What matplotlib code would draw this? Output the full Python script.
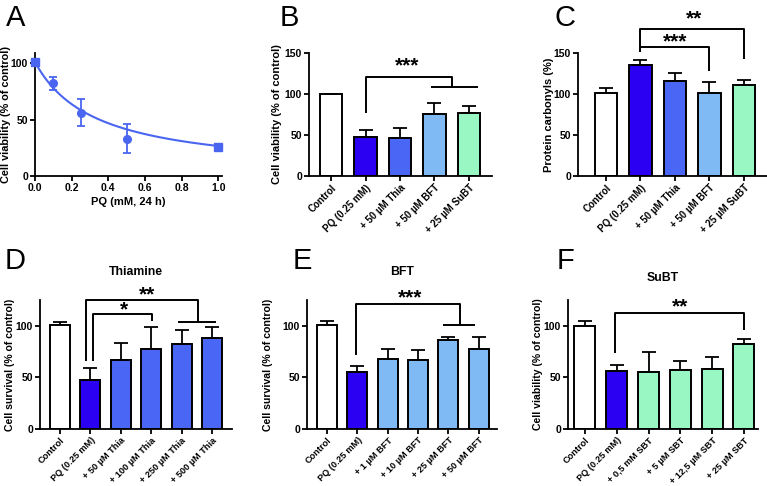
import numpy as np
import matplotlib
matplotlib.use("Agg")
import matplotlib.pyplot as plt

plt.rcParams['font.family'] = ['Liberation Sans', 'DejaVu Sans']
plt.rcParams['font.weight'] = 'bold'

# ------------------------------------------------------------
# Data
# ------------------------------------------------------------

# A: dose response
pq_dose = [0.0, 0.1, 0.25, 0.5, 1.0]
pq_viab = [101, 82, 56, 33, 26]
pq_err = [3, 6, 12, 13, 2]
pq_marker = ['s', 'o', 'o', 'o', 's']
# fitted curve parameters: bottom + (top - bottom) / (1 + x / ic50)
fit_top, fit_bottom, fit_ic50 = 101, 2, 0.33

# B: cell viability
b_labels = ['Control', 'PQ (0.25 mM)', '+ 50 µM Thia', '+ 50 µM BFT', '+ 25 µM SuBT']
b_values = [99.5, 47, 46, 76, 76.5]
b_errors = [1, 9, 13, 13, 9]

# C: protein carbonyls
c_labels = ['Control', 'PQ (0.25 mM)', '+ 50 µM Thia', '+ 50 µM BFT', '+ 25 µM SuBT']
c_values = [101, 135.5, 116, 101, 111]
c_errors = [6, 6.5, 9, 14, 6]

# D: thiamine
d_labels = ['Control', 'PQ (0.25 mM)', '+ 50 µM Thia', '+ 100 µM Thia',
            '+ 250 µM Thia', '+ 500 µM Thia']
d_values = [101, 47.7, 67, 78, 82, 88]
d_errors = [3, 11.5, 16, 21, 14, 11]

# E: BFT
e_labels = ['Control', 'PQ (0.25 mM)', '+ 1 µM BFT', '+ 10 µM BFT',
            '+ 25 µM BFT', '+ 50 µM BFT']
e_values = [101, 55, 68, 67, 86, 78]
e_errors = [4, 6, 10, 10, 3.5, 11.5]

# F: SuBT
f_labels = ['Control', 'PQ (0.25 mM)', '+ 0,5 mM SBT', '+ 5 µM SBT',
            '+ 12,5 µM SBT', '+ 25 µM SBT']
f_values = [100, 56, 55, 57, 58, 82.5]
f_errors = [5, 6.5, 20, 9, 12, 4.5]

WHITE = '#ffffff'
PQ = '#2b00f2'
THIA = '#4a66f5'
BFT = '#80baf5'
SUBT = '#99f7c4'
LINE = '#4a66f0'

W, H = 767, 486


def axes_px(fig, left, top, right, bottom):
    return fig.add_axes([left / W, 1 - bottom / H, (right - left) / W, (bottom - top) / H])


def style(ax, xfs=7):
    for s in ['top', 'right']:
        ax.spines[s].set_visible(False)
    for s in ['left', 'bottom']:
        ax.spines[s].set_linewidth(1.3)
    ax.tick_params(width=1.3, length=3.5, pad=1.5)
    ax.tick_params(axis='y', labelsize=7.5)
    ax.tick_params(axis='x', labelsize=xfs)
    for t in ax.get_yticklabels():
        t.set_fontweight('bold')


def bar_panel(ax, labels, values, errors, colors, ylim, yticks, ylabel, xlim,
              lab_x, lab_fs, xfs=7):
    x = np.arange(len(values))
    ax.bar(x, values, width=0.66, color=colors, edgecolor='black', linewidth=1.4, zorder=2)
    ax.errorbar(x, values, yerr=[np.zeros(len(errors)), errors], fmt='none',
                ecolor='black', elinewidth=1.3, capsize=5, capthick=1.3, zorder=1)
    ax.set_xlim(*xlim)
    ax.set_ylim(*ylim)
    ax.set_yticks(yticks)
    ax.set_xticks(x)
    ax.set_xticklabels(labels, rotation=45, ha='right', rotation_mode='anchor',
                       fontweight='bold')
    ax.set_ylabel(ylabel, fontsize=lab_fs, fontweight='bold')
    ax.yaxis.set_label_coords(lab_x, 0.5)
    style(ax, xfs)


def bracket(ax, pts):
    xs, ys = zip(*pts)
    ax.plot(xs, ys, color='black', lw=1.4, clip_on=False, solid_capstyle='butt')


def stars(ax, x, y, s):
    ax.text(x, y, s, ha='center', va='center', fontsize=15, fontweight='bold', clip_on=False)


fig = plt.figure(figsize=(W / 100, H / 100), dpi=100)

# ------------------------------------------------------------
# A
# ------------------------------------------------------------
ax = axes_px(fig, 35, 53, 222, 176)
xs = np.linspace(0, 1, 200)
ax.plot(xs, fit_bottom + (fit_top - fit_bottom) / (1 + xs / fit_ic50), color=LINE, lw=1.5)
for xv, yv, ev, mk in zip(pq_dose, pq_viab, pq_err, pq_marker):
    ax.errorbar(xv, yv, yerr=ev, fmt=mk, color=LINE, ms=5.5, elinewidth=1.3,
                capsize=3, capthick=1.3, clip_on=False, zorder=3)
ax.set_xlim(0, 1.02)
ax.set_ylim(0, 109)
ax.set_xticks([0.0, 0.2, 0.4, 0.6, 0.8, 1.0])
ax.set_xticklabels(['0.0', '0.2', '0.4', '0.6', '0.8', '1.0'], fontweight='bold')
ax.set_yticks([0, 50, 100])
ax.set_xlabel('PQ (mM, 24 h)', fontsize=8, fontweight='bold', labelpad=3)
ax.set_ylabel('Cell viability (% of control)', fontsize=7.8, fontweight='bold')
ax.yaxis.set_label_coords(-0.128, 0.5)
style(ax, 7.5)

# ------------------------------------------------------------
# B
# ------------------------------------------------------------
ax = axes_px(fig, 309, 53, 492, 176)
bar_panel(ax, b_labels, b_values, b_errors, [WHITE, PQ, THIA, BFT, SUBT],
          (0, 150), [0, 50, 100, 150], 'Cell viability (% of control)', (-0.64, 4.67),
          -0.148, 8)
bracket(ax, [(1, 77), (1, 121), (3.5, 121), (3.5, 109)])
bracket(ax, [(2.9, 109), (4.25, 109)])
stars(ax, 2.2, 134, '***')

# ------------------------------------------------------------
# C
# ------------------------------------------------------------
ax = axes_px(fig, 578, 53, 767, 176)
bar_panel(ax, c_labels, c_values, c_errors, [WHITE, PQ, THIA, BFT, SUBT],
          (0, 150), [0, 50, 100, 150], 'Protein carbonyls (%)', (-0.81, 4.67),
          -0.128, 8)
bracket(ax, [(1, 151), (1, 179), (4, 179), (4, 143)])
bracket(ax, [(1, 157), (3, 157), (3, 128)])
stars(ax, 2.55, 192, '**')
stars(ax, 2.0, 164, '***')

# ------------------------------------------------------------
# D
# ------------------------------------------------------------
ax = axes_px(fig, 40, 300, 232, 429)
bar_panel(ax, d_labels, d_values, d_errors, [WHITE, PQ, THIA, THIA, THIA, THIA],
          (0, 125), [0, 50, 100], 'Cell survival (% of control)', (-0.13, 5.66),
          -0.13, 7.6, 6.6)
ax.set_xlim(-0.66, 5.66)
ax.set_title('Thiamine', fontsize=8.8, fontweight='bold', pad=18)
bracket(ax, [(0.86, 65.5), (0.86, 125), (4.55, 125), (4.55, 104)])
bracket(ax, [(3.89, 104), (5.13, 104)])
bracket(ax, [(1.07, 65.5), (1.07, 111), (3.02, 111), (3.02, 105)])
stars(ax, 2.85, 130, '**')
stars(ax, 2.1, 115, '*')

# ------------------------------------------------------------
# E
# ------------------------------------------------------------
ax = axes_px(fig, 307, 300, 497, 429)
bar_panel(ax, e_labels, e_values, e_errors, [WHITE, PQ, BFT, BFT, BFT, BFT],
          (0, 125), [0, 50, 100], 'Cell survival (% of control)', (-0.66, 5.6),
          -0.179, 7.6, 6.6)
ax.set_title('BFT', fontsize=8.8, fontweight='bold', pad=18)
bracket(ax, [(0.95, 72), (0.95, 121), (4.38, 121), (4.38, 101)])
bracket(ax, [(3.83, 101), (4.87, 101)])
stars(ax, 2.73, 127, '***')

# ------------------------------------------------------------
# F
# ------------------------------------------------------------
ax = axes_px(fig, 568, 300, 758, 429)
bar_panel(ax, f_labels, f_values, f_errors, [WHITE, PQ, SUBT, SUBT, SUBT, SUBT],
          (0, 125), [0, 50, 100], 'Cell viability (% of control)', (-0.53, 5.44),
          -0.132, 7.6, 6.6)
ax.set_title('SuBT', fontsize=8.8, fontweight='bold', pad=14)
bracket(ax, [(0.95, 74), (0.95, 112), (5.0, 112), (5.0, 96)])
stars(ax, 2.98, 118, '**')

# panel letters
for lab, px, py in [('A', 6, 4), ('B', 280, 4), ('C', 555, 4),
                    ('D', 5, 247), ('E', 293, 247), ('F', 557, 247)]:
    fig.text(px / W, 1 - py / H, lab, fontsize=21, fontweight='normal', va='top', ha='left')

fig.savefig('out.png', dpi=100)
